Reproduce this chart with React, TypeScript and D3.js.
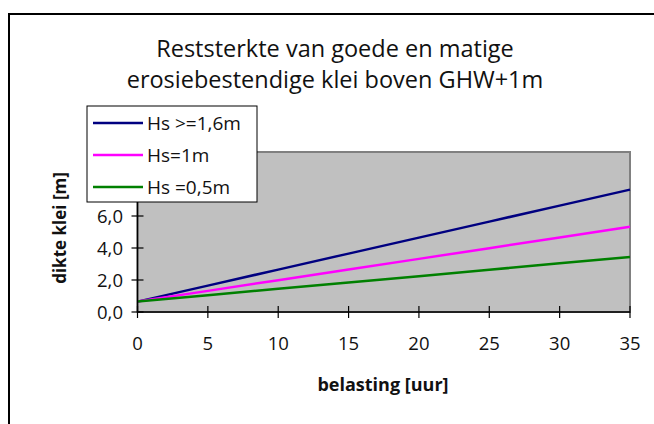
import { line, scaleLinear } from "d3";

const hours = [0, 5, 10, 15, 20, 25, 30, 35];
const hsHigh = [0.65, 1.65, 2.65, 3.65, 4.65, 5.65, 6.65, 7.65];
const hsOne = [0.65, 1.32, 1.99, 2.66, 3.32, 3.99, 4.66, 5.33];
const hsHalf = [0.65, 1.05, 1.45, 1.84, 2.24, 2.64, 3.04, 3.44];
const seriesNames = ["Hs >=1,6m", "Hs=1m", "Hs =0,5m"];
const seriesColors = ["#000080", "#ff00ff", "#008000"];
const yTicks = [0, 2, 4, 6, 8, 10];
const titleLines = ["Reststerkte van goede en matige", "erosiebestendige klei boven GHW+1m"];

const font = "'Open Sans', 'Noto Sans', sans-serif";

export default function App() {
  const width = 654;
  const height = 424;
  const plot = { left: 137.5, right: 630, top: 152, bottom: 312 };

  const x = scaleLinear().domain([0, 35]).range([plot.left, plot.right]);
  const y = scaleLinear().domain([0, 10]).range([plot.bottom, plot.top]);

  const series = [hsHigh, hsOne, hsHalf];
  const path = line<number>()
    .x((_, i) => x(hours[i]))
    .y((d) => y(d));

  const legend = { x: 87, y: 106, w: 170, h: 96 };

  return (
    <svg
      width={width}
      height={height}
      style={{ position: "fixed", left: 0, top: 0, background: "#fff", fontFamily: font }}
    >
      <rect x={0} y={0} width={width} height={height} fill="#fff" />
      {/* outer frame, runs off the right and bottom edge */}
      <rect x={9} y={14} width={700} height={500} fill="none" stroke="#000" strokeWidth={2} />

      {titleLines.map((t, i) => (
        <text key={t} x={335} y={57 + i * 31} textAnchor="middle" fontSize={23.5} fill="#111">
          {t}
        </text>
      ))}

      <rect
        x={plot.left}
        y={plot.top}
        width={plot.right - plot.left}
        height={plot.bottom - plot.top}
        fill="#c0c0c0"
        stroke="#808080"
        strokeWidth={2}
      />

      {series.map((s, i) => (
        <path key={seriesNames[i]} d={path(s) ?? ""} fill="none" stroke={seriesColors[i]} strokeWidth={2.5} />
      ))}

      {/* axes */}
      <line x1={plot.left} x2={plot.left} y1={plot.top} y2={plot.bottom} stroke="#000" strokeWidth={1.5} />
      <line x1={plot.left} x2={plot.right} y1={plot.bottom} y2={plot.bottom} stroke="#000" strokeWidth={1.5} />

      {yTicks.map((t) => (
        <g key={t}>
          <line x1={plot.left - 6} x2={plot.left + 6} y1={y(t)} y2={y(t)} stroke="#000" strokeWidth={1.2} />
          <text x={123} y={y(t) + 6.5} textAnchor="end" fontSize={18.5} fill="#111">
            {t.toFixed(1).replace(".", ",")}
          </text>
        </g>
      ))}

      {hours.map((h) => (
        <g key={h}>
          <line x1={x(h)} x2={x(h)} y1={plot.bottom - 6} y2={plot.bottom + 6} stroke="#000" strokeWidth={1.2} />
          <text x={x(h)} y={350} textAnchor="middle" fontSize={18.5} fill="#111">
            {h}
          </text>
        </g>
      ))}

      <text x={383} y={391} textAnchor="middle" fontSize={18} fontWeight="bold" fill="#111">
        belasting [uur]
      </text>
      <text
        transform={`translate(66, 228) rotate(-90)`}
        textAnchor="middle"
        fontSize={17}
        fontWeight="bold"
        fill="#111"
      >
        dikte klei [m]
      </text>

      {/* legend */}
      <rect x={legend.x} y={legend.y} width={legend.w} height={legend.h} fill="#fff" stroke="#000" strokeWidth={1} />
      {seriesNames.map((n, i) => {
        const ry = 123 + i * 32;
        return (
          <g key={n}>
            <line x1={93} x2={143} y1={ry} y2={ry} stroke={seriesColors[i]} strokeWidth={2.5} />
            <text x={147} y={ry + 7} fontSize={19} fill="#111">
              {n}
            </text>
          </g>
        );
      })}
    </svg>
  );
}
